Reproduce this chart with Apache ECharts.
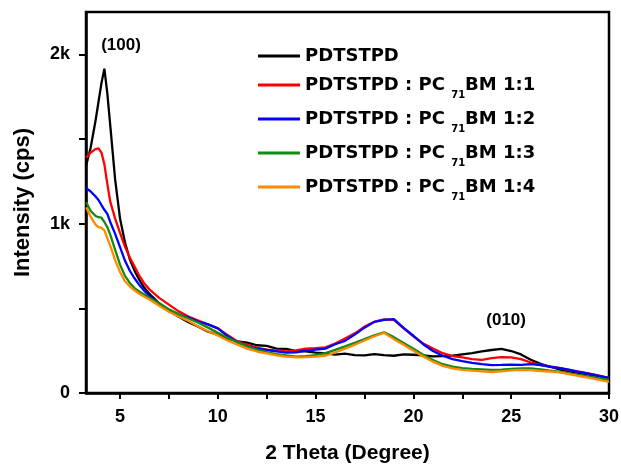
<!DOCTYPE html>
<html>
<head>
<meta charset="utf-8">
<script src="https://cdn.jsdelivr.net/npm/echarts@6/dist/echarts.min.js"></script>
<style>
html,body{margin:0;padding:0;background:#fff;}
#chart{width:621px;height:466px;}
</style>
</head>
<body>
<div id="chart"></div>
<script>
var theta = [3.27,3.5,3.75,3.9,4.05,4.2,4.35,4.5,4.75,5,5.25,5.5,5.75,6,6.25,6.5,7,7.5,8,8.5,9,9.5,10,10.5,11,11.5,12,12.5,13,13.5,14,14.5,15,15.5,16,16.5,17,17.5,18,18.5,19,19.5,20,20.5,21,21.5,22,22.5,23,23.5,24,24.5,25,25.5,26,26.5,27,27.5,28,28.5,29,29.5,30];

var seriesNames = ['PDTSTPD','PDTSTPD : PC71BM 1:1','PDTSTPD : PC71BM 1:2','PDTSTPD : PC71BM 1:3','PDTSTPD : PC71BM 1:4'];

var pristine = [1345,1450,1610,1720,1830,1915,1770,1580,1260,1030,890,790,720,665,620,585,530,485,450,418,392,362,345,322,305,298,282,278,262,260,248,246,238,234,226,232,224,222,230,224,220,228,226,222,216,218,220,228,236,246,254,260,248,228,196,172,155,138,128,118,108,98,88];
var blend11 = [1390,1420,1440,1445,1420,1350,1235,1130,1030,945,865,800,745,690,645,612,562,522,482,452,428,405,382,342,305,285,268,256,250,246,252,262,265,270,292,322,352,392,420,435,432,382,335,292,262,235,218,210,200,196,206,212,210,200,180,166,156,147,135,125,115,102,88];
var blend12 = [1210,1190,1160,1140,1110,1082,1058,1010,940,862,782,722,676,636,602,572,526,488,462,446,422,405,382,336,300,276,262,254,246,238,240,250,256,262,288,308,345,386,420,432,436,385,338,288,248,220,200,188,178,170,165,166,168,166,170,164,155,147,136,124,113,101,90];
var blend13 = [1127,1075,1045,1038,1035,1010,980,935,845,758,692,650,618,598,580,562,530,495,466,440,415,386,356,326,300,276,256,242,230,222,215,218,224,236,255,275,296,318,340,358,330,296,262,226,195,170,156,147,143,140,136,138,142,145,146,140,132,124,115,106,96,87,77];
var blend14 = [1097,1040,995,980,975,960,915,870,785,715,660,630,605,585,568,552,515,480,452,425,393,365,340,310,285,262,245,234,222,215,210,212,215,220,240,262,285,310,335,355,318,285,250,215,185,160,145,136,132,128,124,128,134,136,135,130,127,122,110,100,90,78,65];

var xLabelValues = [5,10,15,20,25,30];
var xTickValues = [5,7.5,10,12.5,15,17.5,20,22.5,25,27.5,30];
var yLabelValues = [0,1000,2000];
var yTickValues = [0,500,1000,1500,2000];

var peakLabels = ['(100)','(010)'];
var peakX = [5.05,24.74];
var peakY = [2053,431];

var colors = ['#000000','#ff0000','#0000ff','#138a13','#ff8a00'];
var allY = [pristine,blend11,blend12,blend13,blend14];

function pairs(ys){ return theta.map(function(x,i){ return [x, ys[i]]; }); }

var FONT = 'Arial, "Liberation Sans", sans-serif';
var LFONT = '"DejaVu Sans", sans-serif';

function legendFmt(name){
  var m = name.match(/^(.*PC)71(BM.*)$/);
  if (m) return '{a|' + m[1] + ' }{s|71}{a|' + m[2] + '}';
  return '{a|' + name + '}';
}
var legendRich = {
  a:{fontFamily:LFONT,fontWeight:'bold',fontSize:18,lineHeight:30,color:'#000'},
  s:{fontFamily:LFONT,fontWeight:'bold',fontSize:10,lineHeight:11,verticalAlign:'bottom',color:'#000'}
};

var series = seriesNames.map(function(n,i){
  var s = {
    name:n, type:'line', data:pairs(allY[i]), symbol:'none', showSymbol:false,
    lineStyle:{color:colors[i],width:2.3}, itemStyle:{color:colors[i]},
    animation:false, z:2+i
  };
  if (i===0){
    s.markPoint = {
      symbol:'circle', symbolSize:0, animation:false,
      label:{show:true,position:'inside',fontFamily:FONT,fontWeight:'bold',fontSize:17,color:'#000',
        formatter:function(p){return p.name;}},
      data: peakLabels.map(function(t,k){ return {name:t, coord:[peakX[k],peakY[k]]}; })
    };
  }
  return s;
});

var chart = echarts.init(document.getElementById('chart'), null, {renderer:'canvas'});
chart.setOption({
  animation:false,
  backgroundColor:'#fff',
  grid:{left:86,right:12,top:12,bottom:73,show:true,borderColor:'#000',borderWidth:2.5,backgroundColor:'transparent',
    containLabel:false,outerBoundsMode:'none'},
  legend:[
    {data:[seriesNames[0]],left:253,top:42,orient:'vertical',icon:'rect',itemWidth:42,itemHeight:3,itemGap:10,
      formatter:legendFmt,textStyle:{rich:legendRich},selectedMode:false},
    {data:seriesNames.slice(1),left:253,top:71,orient:'vertical',icon:'rect',itemWidth:42,itemHeight:3,itemGap:10,
      formatter:legendFmt,textStyle:{rich:legendRich},selectedMode:false}
  ],
  xAxis:{
    type:'value',min:3.26,max:30,
    name:'2 Theta (Degree)',nameLocation:'middle',nameGap:50,
    nameTextStyle:{fontFamily:FONT,fontWeight:'bold',fontSize:21,color:'#000'},
    axisLine:{show:true,lineStyle:{color:'#000',width:2.5}},
    axisTick:{show:true,inside:false,length:6,lineStyle:{color:'#000',width:2},customValues:xTickValues},
    axisLabel:{fontFamily:FONT,fontWeight:'bold',fontSize:18,color:'#000',margin:15,customValues:xLabelValues},
    splitLine:{show:false}
  },
  yAxis:{
    type:'value',min:0,max:2250,
    name:'Intensity (cps)',nameLocation:'middle',nameGap:52,nameRotate:90,
    nameTextStyle:{fontFamily:FONT,fontWeight:'bold',fontSize:22,color:'#000'},
    axisLine:{show:true,lineStyle:{color:'#000',width:2.5}},
    axisTick:{show:true,inside:false,length:7,lineStyle:{color:'#000',width:2},customValues:yTickValues},
    axisLabel:{fontFamily:FONT,fontWeight:'bold',fontSize:18,color:'#000',margin:16,customValues:yLabelValues,
      formatter:function(v){ return v===0 ? '0' : (v/1000)+'k'; }},
    splitLine:{show:false}
  },
  series:series
});
</script>
</body>
</html>
